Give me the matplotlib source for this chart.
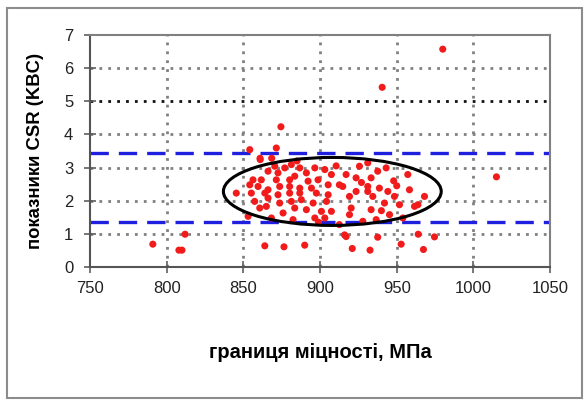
import matplotlib
matplotlib.use("Agg")
import matplotlib.pyplot as plt
from matplotlib.patches import Ellipse, Rectangle

# --- data ---
strength = [
    980, 940.5, 874.5, 1015,
    791, 808, 810, 812,
    864, 876.5, 890, 917, 921, 932.6, 937.6, 952.9, 964, 967.4, 974.6, 916,
    854.2, 871.5, 861, 870.5, 877, 881.3, 886.8, 891.1, 896.6, 903.1, 907.4,
    866.1, 872.6, 883.5, 856.3, 861.7, 871.5, 880.2, 892.2, 898.7, 905.3,
    854.2, 859.6, 866.1, 873.7, 880.2, 886.8, 894.4, 845.4, 855.2, 864,
    872.6, 880.2, 886.8, 897.6, 905.3, 857.4, 866.1, 873.7, 881.3, 887.8,
    895.5, 904.2, 860.7, 865, 875.9, 883.5, 891.1, 900.9, 907.4, 853.1,
    868.3, 882.4, 896.6, 903.1,
    925.7, 931.1, 937.6, 943.1, 957.2, 917, 923.5, 933.3, 912.6, 914.8,
    931.1, 938.7, 923.5, 931.1, 944.2, 958.3, 919.2, 934.4, 948.5, 968.1,
    942, 951.8, 961.6, 963.8, 920.3, 933.3, 945.3, 919.2, 927.9, 936.6,
    954, 912.6, 868.5, 860.9, 910.5, 927, 948, 940, 950, 885, 899,
]
csr = [
    6.57, 5.42, 4.23, 2.72,
    0.69, 0.51, 0.51, 0.99,
    0.64, 0.61, 0.66, 0.92, 0.56, 0.51, 0.90, 0.69, 0.99, 0.53, 0.91, 0.97,
    3.54, 3.59, 3.24, 3.04, 2.99, 3.09, 2.99, 2.84, 2.99, 2.94, 2.79,
    2.89, 2.84, 2.74, 2.63, 2.63, 2.63, 2.63, 2.59, 2.63, 2.48,
    2.48, 2.43, 2.33, 2.43, 2.43, 2.38, 2.38, 2.23, 2.23, 2.23,
    2.18, 2.23, 2.23, 2.23, 2.18, 1.98, 2.08, 1.93, 1.98, 2.03,
    1.93, 1.98, 1.78, 1.83, 1.63, 1.78, 1.73, 1.68, 1.68, 1.53,
    1.48, 1.43, 1.48, 1.48,
    3.04, 3.14, 2.89, 2.99, 2.79, 2.79, 2.69, 2.69, 2.48, 2.43,
    2.43, 2.38, 2.28, 2.28, 2.28, 2.33, 2.13, 2.13, 2.13, 2.13,
    1.93, 1.88, 1.83, 1.88, 1.78, 1.73, 1.58, 1.58, 1.38, 1.43,
    1.48, 1.28, 3.28, 3.28, 3.05, 2.55, 2.6, 1.7, 2.45, 3.2, 1.35,
]

upper_limit = 3.45
lower_limit = 1.37
ellipse_center = (908, 2.28)
ellipse_size = (142, 2.05)

x_ticks = [750, 800, 850, 900, 950, 1000, 1050]
y_ticks = [0, 1, 2, 3, 4, 5, 6, 7]
x_label = "границя міцності, МПа"
y_label = "показники CSR (KBC)"

plt.rcParams['font.family'] = ['Liberation Sans', 'DejaVu Sans']

fig = plt.figure(figsize=(5.84, 4.01), dpi=100)
fig.patches.append(Rectangle((0.012, 0.008), 0.985, 0.972, transform=fig.transFigure,
                             fill=False, edgecolor='#8c8c8c', linewidth=1.5))
ax = fig.add_axes([0.154, 0.334, 0.788, 0.579])

ax.set_xlim(750, 1050)
ax.set_ylim(0, 7)

# grid
for xv in x_ticks[1:-1]:
    ax.axvline(xv, color='#808080', linestyle=(0, (1, 2.2)), linewidth=2, zorder=1)
for yv in y_ticks[1:-1]:
    col = '#111111' if yv == 5 else '#808080'
    ax.axhline(yv, color=col, linestyle=(0, (1, 2.2)), linewidth=2, zorder=1)

ax.axhline(upper_limit, color='#1f1fe0', linestyle=(0, (5.5, 3)), linewidth=2.4, zorder=2)
ax.axhline(lower_limit, color='#1f1fe0', linestyle=(0, (5.5, 3)), linewidth=2.4, zorder=2)

ax.scatter(strength, csr, s=26, color='#f21b1b', edgecolors='none', zorder=3)

ax.add_patch(Ellipse(ellipse_center, ellipse_size[0], ellipse_size[1], fill=False,
                     edgecolor='black', linewidth=2.2, zorder=4))

ax.set_xticks(x_ticks)
ax.set_yticks(y_ticks)
ax.tick_params(direction='inout', length=8, width=1.2, color='#606060',
               labelsize=12, pad=6, labelcolor='#222222')
ax.tick_params(axis='y', pad=8)
for s in ax.spines.values():
    s.set_color('#808080')
    s.set_linewidth(1.5)
ax.spines['left'].set_color('#555555')
ax.spines['bottom'].set_color('#555555')

ax.set_xlabel(x_label, fontsize=14.5, fontweight='bold', labelpad=34)
ax.set_ylabel(y_label, fontsize=13.3, fontweight='bold', labelpad=14)

fig.savefig('out.png', dpi=100)
